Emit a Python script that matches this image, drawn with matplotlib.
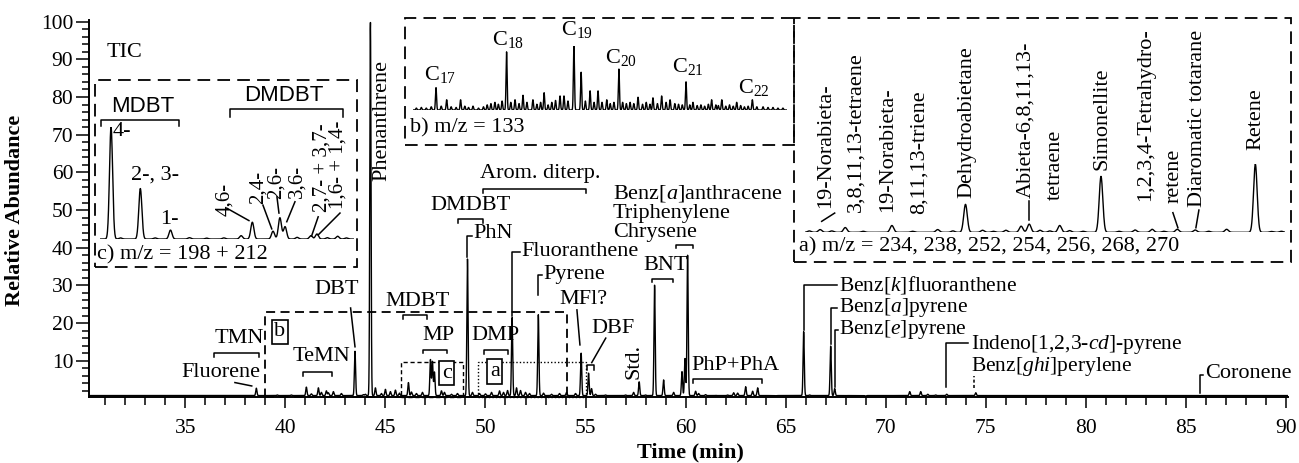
import numpy as np
import matplotlib.pyplot as plt
from matplotlib.patches import Rectangle

plt.rcParams['font.family'] = ['Liberation Serif', 'DejaVu Serif']
plt.rcParams['mathtext.fontset'] = 'custom'
plt.rcParams['mathtext.rm'] = 'Liberation Serif'
plt.rcParams['mathtext.it'] = 'Liberation Serif:italic'
plt.rcParams['mathtext.default'] = 'regular'

# ---- TIC (main chromatogram): retention time (min), relative abundance at peak top
tic_time = [38.55, 39.6, 40.3, 41.05, 41.3, 41.65, 41.8, 42.05, 42.15, 42.4, 42.8,
            43.48, 43.9, 44.0, 44.25, 44.5, 44.8, 45.0, 45.25, 45.5, 45.7, 46.15,
            46.3, 46.55, 46.85, 47.25, 47.35, 47.45, 47.8, 47.95, 48.3, 48.6, 49.1,
            49.35, 49.7, 50.0, 50.3, 50.7, 50.9, 51.1, 51.33, 51.55, 51.75, 52.0,
            52.2, 52.64, 52.9, 53.3, 53.7, 54.05, 54.5, 54.78, 55.15, 55.3, 55.5,
            56.0, 57.0, 57.4, 57.68, 58.0, 58.45, 58.9, 59.4, 59.82, 59.97, 60.1,
            60.5, 60.65, 61.0, 61.5, 62.1, 62.4, 62.6, 63.0, 63.35, 63.6, 64.5,
            65.9, 66.2, 67.25, 67.45, 68.0, 69.0, 71.2, 71.75, 72.1, 72.5, 73.05, 74.5]
tic_height = [2.7, 0.9, 0.9, 3.0, 1.2, 2.8, 1.6, 2.0, 1.5, 1.8, 1.3,
              12.5, 1.0, 1.1, 100, 2.8, 1.3, 2.4, 1.8, 2.2, 1.4, 4.2,
              1.7, 1.3, 1.6, 10.3, 9.8, 7.0, 2.0, 1.6, 1.1, 1.3, 37.0,
              1.6, 1.3, 1.2, 1.6, 2.0, 1.6, 2.1, 21.5, 2.8, 2.1, 1.6,
              1.3, 22.2, 1.4, 1.1, 1.3, 1.6, 1.3, 12.0, 6.7, 2.6, 1.1,
              0.9, 0.9, 1.6, 4.4, 0.9, 30.1, 4.9, 1.6, 7.1, 10.6, 38.0,
              1.9, 1.3, 1.0, 0.8, 0.9, 1.5, 1.4, 3.1, 1.9, 2.8, 0.7,
              17.7, 0.9, 13.9, 2.6, 0.7, 0.6, 1.8, 1.8, 1.1, 0.9, 1.1, 1.5]
tic_base = 0.75

# ---- inset c) m/z = 198 + 212 (dibenzothiophenes), intensity relative to 4-MDBT
c_time = [45.99, 46.33, 46.68, 47.50, 47.63, 47.87, 47.95, 48.01, 48.31, 48.38, 48.62,
          46.10, 46.50, 46.90, 47.10, 47.30, 48.15, 48.50, 48.72]
c_height = [100, 45, 8, 3, 15, 7, 19, 11, 3, 4.5, 2.5,
            1.0, 1.0, 1.2, 0.8, 1.0, 1.5, 1.2, 1.0]
c_window = (45.86, 48.81)

# ---- inset b) m/z = 133 (alkylbenzenes), intensity relative to C19
b_time = [39.94, 40.37, 40.93, 41.43, 42.31, 42.78, 43.12, 43.44, 43.84, 44.29,
          44.93, 45.09, 45.49, 45.78, 46.14, 46.46, 46.81, 47.30, 47.75, 48.07,
          48.67, 49.02, 49.36, 50.00, 50.28, 51.03, 51.44, 52.04, 52.67, 53.10,
          39.15, 39.35, 39.55, 39.75, 40.15, 40.55, 40.75, 41.10, 41.25, 41.65,
          41.85, 42.00, 42.15, 42.45, 42.60, 42.95, 43.28, 43.60, 44.00, 44.15,
          44.45, 44.60, 44.75, 45.25, 45.95, 46.30, 46.62, 46.95, 47.10, 47.45,
          47.60, 47.90, 48.25, 48.40, 48.55, 48.85, 49.20, 49.55, 49.70, 49.85,
          50.15, 50.45, 50.60, 50.75, 50.90, 51.20, 51.30, 51.60, 51.75, 51.90,
          52.20, 52.35, 52.50, 52.85, 53.30, 53.50, 53.70, 53.90]
b_height = [35, 16, 16, 6, 12, 91, 16, 23, 16, 27,
            22, 22, 100, 59, 30, 30, 16, 64, 12, 20,
            19, 22, 16, 44, 12, 16, 16, 12, 16, 5,
            3, 4, 3, 5, 6, 5, 4, 6, 4, 3,
            5, 8, 10, 9, 14, 12, 10, 12, 9, 12,
            8, 12, 15, 14, 14, 12, 12, 10, 12, 12,
            10, 10, 9, 12, 9, 10, 12, 10, 9, 8,
            8, 7, 8, 6, 9, 8, 7, 6, 8, 6,
            7, 5, 6, 5, 4, 4, 3, 3]
b_window = (39.0, 54.05)
b_peak_names = ['C$_{17}$', 'C$_{18}$', 'C$_{19}$', 'C$_{20}$', 'C$_{21}$', 'C$_{22}$']

# ---- inset a) m/z = 234...270 (aromatic diterpenoids), intensity relative to retene
a_time = [49.82, 50.10, 50.62, 51.13, 51.44, 51.63, 51.89, 52.06, 52.15, 52.27,
          52.49, 52.60, 52.95, 53.33, 53.52, 53.80, 54.00, 54.35, 54.67, 54.96,
          49.70, 49.95, 50.30, 50.85, 51.30, 51.75, 52.38, 52.75, 53.15, 53.65, 54.15, 54.85]
a_height = [4, 7, 10, 4, 41, 3, 3, 9, 12, 3,
            10, 2.5, 82, 3.4, 4.4, 4.4, 3.4, 4.4, 100, 1.5,
            2, 2, 1.5, 1.5, 2, 1.5, 2, 1.5, 1.5, 1.5, 1.5, 1.2]
a_window = (49.65, 55.0)


def trace(grid, times, heights, sigma, base=0.0):
    y = np.full_like(grid, base)
    for t, h in zip(times, heights):
        y += (h - base) * np.exp(-0.5 * ((grid - t) / sigma) ** 2)
    return y


fig = plt.figure(figsize=(12.99, 4.63), dpi=100)
ax = fig.add_axes([0.0687, 0.1432, 0.9228, 0.8132])

t = np.arange(30.2, 90.1, 0.004)
ax.plot(t, trace(t, tic_time, tic_height, 0.03, tic_base), color='k', lw=1.0)

ax.set_xlim(30.2, 90.1)
ax.set_ylim(0.45, 100.4)
ax.spines['top'].set_visible(False)
ax.spines['right'].set_visible(False)
for s in ('left', 'bottom'):
    ax.spines[s].set_linewidth(1.4)
ax.set_xticks(np.arange(35, 91, 5))
ax.set_xticks(np.arange(31, 90, 1), minor=True)
ax.set_yticks(np.arange(10, 101, 10))
ax.set_yticks(np.arange(2, 100, 2), minor=True)
ax.tick_params(axis='both', which='both', direction='out', width=1.1, labelsize=15.5)
ax.tick_params(axis='x', which='major', length=8, pad=8)
ax.tick_params(axis='x', which='minor', length=6)
ax.tick_params(axis='y', which='major', length=9.5, pad=2)
ax.tick_params(axis='y', which='minor', length=5)

fig.text(15 / 1299, 1 - 210 / 463, 'Relative Abundance', rotation=90, ha='center',
         va='center', fontsize=16, fontweight='bold')
fig.text(690 / 1299, 1 - 452 / 463, 'Time (min)', ha='center', va='center',
         fontsize=16, fontweight='bold')

LW = 1.1


def line(xs, ys, **kw):
    ax.plot(xs, ys, color='k', lw=kw.pop('lw', LW), clip_on=False, **kw)


def bracket(x0, x1, y, leg):
    line([x0, x0, x1, x1], [y - leg, y, y, y - leg])


def txt(x, y, s, **kw):
    kw.setdefault('fontsize', 16)
    ax.text(x, y, s, **kw)


def box(x0, y0, x1, y1, ls, lw=1.3):
    ax.add_patch(Rectangle((x0, y0), x1 - x0, y1 - y0, fill=False, ec='k',
                           ls=ls, lw=lw, clip_on=False))


def boxlabel(x, y, s):
    ax.text(x, y, s, fontsize=16, ha='center', va='center',
            bbox=dict(boxstyle='square,pad=0.12', fc='white', ec='k', lw=1.2))


# ---- main annotations
txt(31.09, 91.7, 'TIC', va='center')
txt(44.82, 73.9, 'Phenanthrene', rotation=90, ha='center', va='center')
txt(37.68, 15.8, 'TMN', ha='center', va='center')
bracket(36.43, 38.68, 12.0, 1.0)
txt(36.78, 6.8, 'Fluorene', ha='center', va='center')
line([37.48, 38.32], [4.2, 3.3])
txt(41.81, 11.1, 'TeMN', ha='center', va='center')
bracket(40.86, 42.31, 7.0, 1.1)
txt(42.58, 29.0, 'DBT', ha='center', va='center')
line([43.26, 43.48], [24.0, 13.7])
txt(46.6, 25.7, 'MDBT', ha='center', va='center')
bracket(45.88, 47.08, 22.1, 1.0)
txt(47.63, 16.6, 'MP', ha='center', va='center')
bracket(46.88, 48.08, 12.85, 0.8)
txt(50.51, 16.8, 'DMP', ha='center', va='center')
bracket(49.94, 51.14, 12.85, 1.0)
txt(49.27, 51.3, 'DMDBT', ha='center', va='center')
bracket(48.64, 49.86, 47.5, 0.9)
txt(49.38, 43.8, 'PhN', va='center')
line([49.09, 49.09, 49.31], [37.5, 43.1, 43.1])
txt(51.81, 38.9, 'Fluoranthene', va='center')
line([51.31, 51.31, 51.72], [22.0, 38.9, 38.9])
txt(52.89, 32.8, 'Pyrene', va='center')
line([52.64, 52.64, 52.81], [27.4, 32.8, 32.8])
txt(52.72, 59.8, 'Arom. diterp.', ha='center', va='center')
bracket(49.89, 55.02, 55.5, 0.9)
txt(54.9, 26.3, 'MFl?', ha='center', va='center')
line([54.57, 54.72], [23.5, 14.2])
txt(56.35, 18.6, 'DBF', ha='center', va='center')
line([56.01, 55.31], [16.0, 9.5])
bracket(55.06, 55.42, 8.9, 1.4)
txt(57.44, 9.7, 'Std.', rotation=90, ha='center', va='center')
txt(59.02, 35.4, 'BNT', ha='center', va='center')
bracket(58.34, 59.39, 31.7, 0.8)
txt(56.37, 54.4, 'Benz[$\\mathit{a}$]anthracene', va='center')
txt(56.37, 49.2, 'Triphenylene', va='center')
txt(56.37, 44.1, 'Chrysene', va='center')
bracket(59.5, 60.37, 40.7, 0.9)
txt(62.47, 8.6, 'PhP+PhA', ha='center', va='center')
bracket(60.38, 63.8, 5.15, 1.0)
txt(67.68, 30.0, 'Benz[$\\mathit{k}$]fluoranthene', va='center', fontsize=15.5)
line([65.9, 65.9, 67.55], [18.2, 30.0, 30.0])
txt(67.68, 24.1, 'Benz[$\\mathit{a}$]pyrene', va='center', fontsize=15.5)
line([67.25, 67.25, 67.55], [14.4, 24.1, 24.1])
txt(67.68, 18.2, 'Benz[$\\mathit{e}$]pyrene', va='center', fontsize=15.5)
line([67.45, 67.45, 67.62], [3.1, 18.2, 18.2])
txt(74.26, 14.4, 'Indeno[$\\mathit{1}$,$\\mathit{2}$,$\\mathit{3}$-$\\mathit{cd}$]-pyrene',
    va='center', fontsize=15.5)
line([73.02, 73.02, 74.13], [3.1, 14.6, 14.6])
txt(74.26, 8.4, 'Benz[$\\mathit{ghi}$]perylene', va='center', fontsize=15.5)
line([74.43, 74.43], [2.8, 6.0], ls=(0, (2, 1.5)))
txt(85.95, 6.7, 'Coronene', va='center')
line([85.7, 85.7, 85.85], [1.5, 6.2, 6.2])

# zoom-region boxes on the TIC
box(39.0, 0.45, 54.05, 23.0, (0, (5, 3)))
box(45.8, 0.45, 48.9, 9.75, (0, (3, 2)), lw=1.0)
box(49.65, 0.45, 55.0, 9.75, (0, (1, 1.5)), lw=1.0)
boxlabel(39.73, 17.7, 'b')
boxlabel(48.06, 6.7, 'c')
boxlabel(50.47, 7.1, 'a')

# ---- inset frames
dash = (0, (7, 4))
box(30.49, 35.0, 43.58, 84.4, dash)
box(45.98, 67.3, 65.42, 101.0, dash)
box(65.42, 36.2, 90.27, 101.0, dash)

# ---- inset c
axc = ax.inset_axes([30.73, 42.3, 12.7, 29.8], transform=ax.transData)
tc = np.linspace(*c_window, 1500)
axc.plot(tc, trace(tc, c_time, c_height, 0.018), color='k', lw=1.0)
axc.set_xlim(*c_window)
axc.set_ylim(0, 100)
axc.axis('off')
txt(32.87, 77.6, 'MDBT', ha='center', va='center', family='Liberation Sans')
bracket(30.77, 34.7, 73.9, 1.6)
txt(39.93, 80.3, 'DMDBT', ha='center', va='center', family='Liberation Sans')
bracket(37.23, 42.88, 76.7, 1.9)
txt(31.38, 70.8, '4-', va='center')
txt(33.48, 59.3, '2-, 3-', ha='center', va='center')
txt(34.18, 47.4, '1-', ha='center', va='center')
for x, y, s, (x0, y0, x1, y1) in [
        (36.98, 52.7, '4,6-', (37.07, 50.5, 38.18, 47.2)),
        (38.63, 56.1, '2,4-', (38.88, 51.3, 39.32, 45.0)),
        (39.56, 57.4, '2,6-', (39.58, 53.5, 39.68, 49.2)),
        (40.56, 57.7, '3,6-', (40.48, 52.2, 40.07, 46.9)),
        (41.81, 61.2, '2,7- + 3,7-', (41.64, 48.2, 41.31, 43.1)),
        (42.64, 62.0, '1,6- + 1,4-', (42.73, 49.2, 41.64, 43.4))]:
    txt(x, y, s, rotation=90, ha='center', va='center', fontsize=15)
    line([x0, x1], [y0, y1])
txt(30.58, 38.1, 'c) m/z = 198 + 212', va='center')

# ---- inset b
axb = ax.inset_axes([46.36, 76.56, 18.69, 16.98], transform=ax.transData)
tb = np.linspace(*b_window, 3000)
axb.plot(tb, trace(tb, b_time, b_height, 0.022), color='k', lw=1.0)
axb.set_xlim(*b_window)
axb.set_ylim(0, 100)
axb.axis('off')
for (x, y), s in zip([(47.75, 85.9), (51.15, 95.2), (54.55, 97.9), (56.75, 90.4),
                      (60.1, 88.0), (63.4, 82.5)], b_peak_names):
    txt(x, y, s, ha='center', va='center')
txt(46.25, 71.8, 'b) m/z = 133', va='center')

# ---- inset a
axa = ax.inset_axes([65.96, 44.09, 23.99, 18.1], transform=ax.transData)
ta = np.linspace(*a_window, 2000)
axa.plot(ta, trace(ta, a_time, a_height, 0.02), color='k', lw=1.0)
axa.set_xlim(*a_window)
axa.set_ylim(0, 100)
axa.axis('off')
for x, y, s in [(67.0, 50.6, '19-Norabieta-'), (68.5, 49.6, '3,8,11,13-tetraene'),
                (70.1, 49.6, '19-Norabieta-'), (71.65, 49.0, '8,11,13-triene'),
                (74.05, 53.2, 'Dehydroabietane'), (77.0, 53.2, 'Abieta-6,8,11,13-'),
                (78.5, 52.7, 'tetraene'), (80.8, 60.7, 'Simonellite'),
                (83.0, 52.3, '1,2,3,4-Tetrahydro-'), (84.4, 51.9, 'retene'),
                (85.6, 50.8, 'Diaromatic totarane'), (88.5, 66.0, 'Retene')]:
    txt(x, y, s, rotation=90, ha='center', va='bottom')
line([66.8, 67.45], [47.0, 49.2])
line([77.15, 77.15], [47.4, 52.5])
line([84.35, 84.6], [49.3, 45.3])
line([85.65, 85.5], [50.0, 45.3])
txt(65.65, 40.3, 'a) m/z = 234, 238, 252, 254, 256, 268, 270', va='center')

fig.savefig('out.png', dpi=100)
